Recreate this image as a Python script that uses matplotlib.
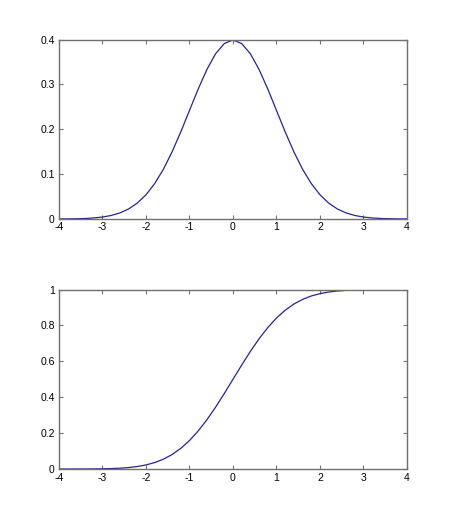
import matplotlib
matplotlib.use('Agg')
import matplotlib.pyplot as plt

# values (step 0.2)
x = [-4.0, -3.8, -3.6, -3.4, -3.2, -3.0, -2.8, -2.6, -2.4, -2.2, -2.0,
     -1.8, -1.6, -1.4, -1.2, -1.0, -0.8, -0.6, -0.4, -0.2, 0.0,
     0.2, 0.4, 0.6, 0.8, 1.0, 1.2, 1.4, 1.6, 1.8, 2.0,
     2.2, 2.4, 2.6, 2.8, 3.0, 3.2, 3.4, 3.6, 3.8, 4.0]
pdf = [0.0001, 0.0003, 0.0006, 0.0012, 0.0024, 0.0044, 0.0079, 0.0136, 0.0224, 0.0355, 0.0540,
       0.0790, 0.1109, 0.1497, 0.1942, 0.2420, 0.2897, 0.3332, 0.3683, 0.3910, 0.3989,
       0.3910, 0.3683, 0.3332, 0.2897, 0.2420, 0.1942, 0.1497, 0.1109, 0.0790, 0.0540,
       0.0355, 0.0224, 0.0136, 0.0079, 0.0044, 0.0024, 0.0012, 0.0006, 0.0003, 0.0001]
cdf = [0.0000, 0.0001, 0.0002, 0.0003, 0.0007, 0.0013, 0.0026, 0.0047, 0.0082, 0.0139, 0.0228,
       0.0359, 0.0548, 0.0808, 0.1151, 0.1587, 0.2119, 0.2743, 0.3446, 0.4207, 0.5000,
       0.5793, 0.6554, 0.7257, 0.7881, 0.8413, 0.8849, 0.9192, 0.9452, 0.9641, 0.9772,
       0.9861, 0.9918, 0.9953, 0.9974, 0.9987, 0.9993, 0.9997, 0.9998, 0.9999, 1.0000]

xticks = [-4, -3, -2, -1, 0, 1, 2, 3, 4]
yticks_top = [0, 0.1, 0.2, 0.3, 0.4]
ylabels_top = ['0', '0.1', '0.2', '0.3', '0.4']
yticks_bot = [0, 0.2, 0.4, 0.6, 0.8, 1]
ylabels_bot = ['0', '0.2', '0.4', '0.6', '0.8', '1']

plt.rcParams['font.family'] = ['Liberation Sans', 'DejaVu Sans']
fig = plt.figure(figsize=(4.49, 5.27), dpi=100)
fig.patch.set_facecolor('white')

line_col = '#25258c'
frame_col = '#707070'

def setup(ax, yt, yl, ymax):
    ax.set_xlim(-4, 4)
    ax.set_ylim(0, ymax)
    ax.set_xticks(xticks)
    ax.set_xticklabels([str(v) for v in xticks])
    ax.set_yticks(yt)
    ax.set_yticklabels(yl)
    ax.tick_params(direction='in', length=3, width=0.8, color=frame_col,
                   labelsize=7.5, top=True, right=True)
    ax.tick_params(axis='x', pad=2.5)
    ax.tick_params(axis='y', pad=3)
    for s in ax.spines.values():
        s.set_color(frame_col)
        s.set_linewidth(1.0)

ax1 = fig.add_axes([0.1314, 0.5844, 0.775, 0.3406])
ax1.plot(x, pdf, color=line_col, lw=0.9)
setup(ax1, yticks_top, ylabels_top, 0.4)

ax2 = fig.add_axes([0.1314, 0.110, 0.775, 0.3406])
ax2.plot(x, cdf, color=line_col, lw=0.9)
setup(ax2, yticks_bot, ylabels_bot, 1)

fig.savefig('out.png', dpi=100, facecolor='white')
